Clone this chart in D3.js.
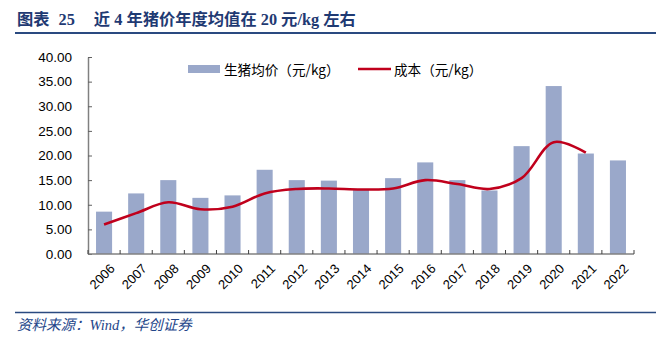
<!DOCTYPE html>
<html><head><meta charset="utf-8">
<script src="https://cdn.jsdelivr.net/npm/d3@7"></script>
<style>body{margin:0;background:#fff}svg{display:block}</style>
</head><body>
<svg id="c" width="669" height="338"></svg>
<script>
const categories = ["2006","2007","2008","2009","2010","2011","2012","2013","2014","2015","2016","2017","2018","2019","2020","2021","2022"];
const priceValues = [8.6,12.3,15.0,11.4,11.9,17.1,15.0,14.9,13.2,15.4,18.6,15.0,12.9,21.9,34.1,20.4,19.0];
const costValues = [6.0,8.3,10.5,9.1,9.6,12.3,13.2,13.3,13.1,13.3,15.0,14.2,13.2,15.4,22.7,20.6,null];
const yTicks = [0,5,10,15,20,25,30,35,40];
const seriesNames = ["生猪均价（元/kg）","成本（元/kg）"];
const titleParts = ["图表", "25", "近 4 年猪价年度均值在 20 元/kg 左右"];
const sourceText = "资料来源：Wind，华创证券";

const svg = d3.select("#c");
const mLeft = 88, mRight = 634, mTop = 57, mBottom = 254;
const x = d3.scaleBand().domain(categories).range([mLeft, mRight]).paddingInner(0.5).paddingOuter(0.25);
const y = d3.scaleLinear().domain([0,40]).range([mBottom, mTop]);

// title
const tt = svg.append("text").attr("x",17).attr("y",25)
  .attr("font-family","'Liberation Serif','Noto Sans CJK SC',serif").attr("font-weight","bold")
  .attr("font-size",16.3).attr("fill","#1F3A73");
tt.append("tspan").text(titleParts[0]);
tt.append("tspan").attr("dx",9).text(titleParts[1]);
tt.append("tspan").attr("dx",19).text(titleParts[2]);
svg.append("line").attr("x1",15).attr("x2",656).attr("y1",33).attr("y2",33).attr("stroke","#2A4A80").attr("stroke-width",2);

// bars
svg.append("g").selectAll("rect").data(categories).join("rect")
  .attr("x",d=>x(d)).attr("width",x.bandwidth())
  .attr("y",(d,i)=>y(priceValues[i])).attr("height",(d,i)=>y(0)-y(priceValues[i]))
  .attr("fill","#9AA8CA");

// line
const line = d3.line().defined(d=>d.v!=null).x(d=>x(d.c)+x.bandwidth()/2).y(d=>y(d.v)).curve(d3.curveCatmullRom.alpha(0.5));
svg.append("path").datum(categories.map((c,i)=>({c,v:costValues[i]})))
  .attr("d",line).attr("fill","none").attr("stroke","#C0001C").attr("stroke-width",2.6);

// y axis
const yAxis = d3.axisLeft(y).tickValues(yTicks).tickFormat(d3.format(".2f")).tickSizeInner(-4).tickSizeOuter(0).tickPadding(16);
const gy = svg.append("g").attr("transform",`translate(${mLeft},0)`).call(yAxis);
gy.select(".domain").attr("stroke","#808080").attr("stroke-width",1.5);
gy.selectAll(".tick line").attr("stroke","#606060");
gy.selectAll("text").attr("font-family","'Liberation Sans',Arial,sans-serif").attr("font-size",13.5).attr("fill","#000");

// x axis
const gx = svg.append("g").attr("transform",`translate(0,${mBottom})`);
gx.append("line").attr("x1",mLeft).attr("x2",mRight).attr("stroke","#808080").attr("stroke-width",1.5);
const bounds = categories.map(c=>x(c)-x.step()*x.paddingInner()/2).concat([mRight]);
gx.selectAll("line.tk").data(bounds).join("line").attr("class","tk")
  .attr("x1",d=>d).attr("x2",d=>d).attr("y1",0).attr("y2",-4).attr("stroke","#404040");
gx.selectAll("text").data(categories).join("text")
  .attr("transform",d=>`translate(${x(d)+x.bandwidth()/2+5},${9}) rotate(-45)`)
  .attr("text-anchor","end").attr("dy","0.7em")
  .attr("font-family","'Liberation Sans',Arial,sans-serif").attr("font-size",13).attr("fill","#000").text(d=>d);

// legend
const lg = svg.append("g").attr("font-family","'Noto Sans CJK SC','Liberation Sans',sans-serif").attr("font-size",13.6);
lg.append("rect").attr("x",188).attr("y",65).attr("width",32).attr("height",8).attr("fill","#9AA8CA");
lg.append("text").attr("x",224).attr("y",74.5).text(seriesNames[0]);
lg.append("line").attr("x1",358).attr("x2",391).attr("y1",69).attr("y2",69).attr("stroke","#C0001C").attr("stroke-width",2.6);
lg.append("text").attr("x",394).attr("y",74.5).text(seriesNames[1]);

// footer
svg.append("line").attr("x1",15).attr("x2",656).attr("y1",312.5).attr("y2",312.5).attr("stroke","#2A4A80").attr("stroke-width",1.5);
svg.append("text").attr("x",17).attr("y",330)
  .attr("font-family","'Liberation Serif','Noto Sans CJK SC',serif").attr("font-style","italic")
  .attr("font-size",14.5).attr("fill","#24468A").text(sourceText);
</script>
</body></html>
